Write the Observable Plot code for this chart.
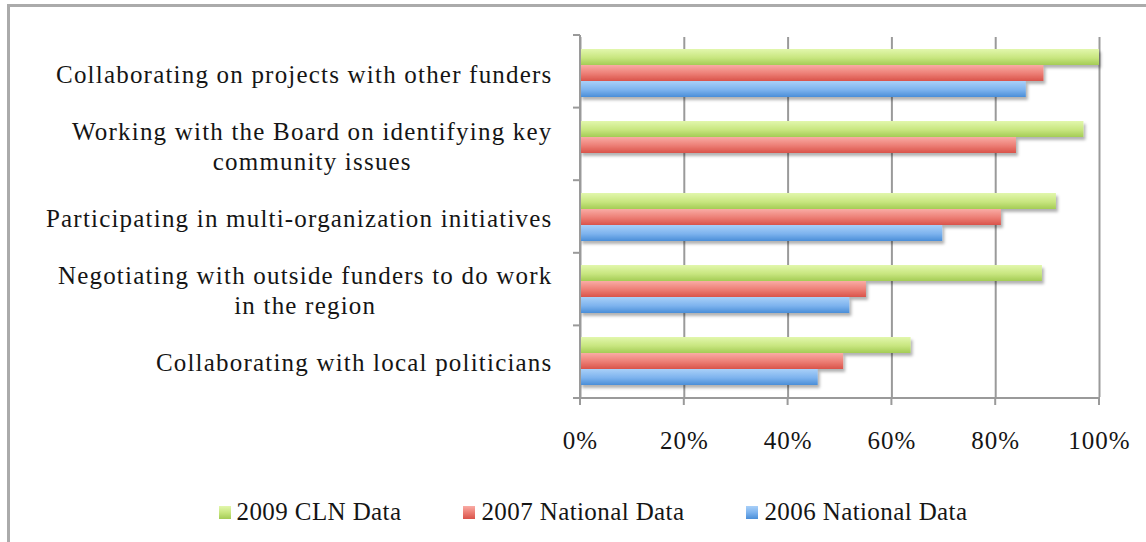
<!DOCTYPE html>
<html>
<head>
<meta charset="utf-8">
<script src="https://cdn.jsdelivr.net/npm/d3@7"></script>
<script src="https://cdn.jsdelivr.net/npm/@observablehq/plot@0.6"></script>
<style>
  html, body { margin: 0; padding: 0; background: #fff; }
  #wrap { position: relative; width: 1146px; height: 542px; background: #fff; overflow: hidden;
          font-family: "Liberation Serif", serif; color: #151515; }
  #border { position: absolute; left: 7px; top: 4px; width: 1200px; height: 600px;
            border-top: 3px solid #ababab; border-left: 3px solid #ababab; }
  #chart { position: absolute; left: 0; top: 0; }
  #legend { position: absolute; left: 0; top: 476px; width: 1146px; height: 72px;
            display: flex; justify-content: center; align-items: center; padding-left: 40px; box-sizing: border-box;
            font-size: 25px; letter-spacing: 0.4px; }
  .item { display: flex; align-items: center; margin: 0 31px; }
  .sw { width: 12px; height: 13px; margin-right: 6px; display: inline-block; }
</style>
</head>
<body>
<div id="wrap">
  <div id="border"></div>
  <div id="chart"></div>
  <div id="legend"></div>
</div>
<script>
// ---- data ----
const categories = [
  "Collaborating on projects with other funders",
  "Working with the Board on identifying key community issues",
  "Participating in multi-organization initiatives",
  "Negotiating with outside funders to do work in the region",
  "Collaborating with local politicians"
];
const categoryLabels = [
  "Collaborating on projects with other funders",
  "Working with the Board on identifying key\ncommunity issues",
  "Participating in multi-organization initiatives",
  "Negotiating with outside funders to do work\nin the region",
  "Collaborating with local politicians"
];
const seriesNames = ["2009 CLN Data", "2007 National Data", "2006 National Data"];
const cln2009 = [100, 97, 91.7, 89, 63.7];
const national2007 = [89.3, 84, 81.1, 55.1, 50.7];
const national2006 = [85.9, null, 69.8, 51.9, 45.8];
const xTicks = [0, 20, 40, 60, 80, 100];

const seriesValues = [cln2009, national2007, national2006];
const gradIds = ["gGreen", "gRed", "gBlue"];
const gradStops = [
  ["#e2f7ad", "#c8e67f", "#a4cc56"],
  ["#f9aca5", "#ec7d74", "#d9534a"],
  ["#a9d0f8", "#7db3ee", "#4a8ed8"]
];

// build tidy rows
const rows = [];
seriesNames.forEach((s, si) => {
  categories.forEach((c, ci) => {
    const v = seriesValues[si][ci];
    if (v != null) rows.push({category: c, series: s, value: v});
  });
});
const labelOf = new Map(categories.map((c, i) => [c, categoryLabels[i]]));

const W = 1146, H = 470, mL = 580, mR = 47, mT = 35, mB = 72;

const barMarks = seriesNames.map((s, i) =>
  Plot.barX(rows.filter(r => r.series === s), {
    x: "value", y: "series", fy: "category", fill: `url(#${gradIds[i]})`
  })
);

const plot = Plot.plot({
  width: W,
  height: H,
  marginLeft: mL,
  marginRight: mR,
  marginTop: mT,
  marginBottom: mB,
  style: {fontFamily: "'Liberation Serif', serif", fontSize: "25px", color: "#151515", background: "transparent", overflow: "visible"},
  x: {domain: [0, 100], label: null},
  fy: {domain: categories, padding: 0, label: null},
  y: {domain: seriesNames, paddingInner: 0, paddingOuter: 0.72, axis: null},
  marks: [
    Plot.gridX(xTicks, {stroke: "#9a9a9a", strokeOpacity: 1, strokeWidth: 2}),
    ...barMarks,
    Plot.axisX(xTicks, {tickSize: 0, tickPadding: 34, tickFormat: d => d + "%", label: null, fontSize: 25}),
    Plot.axisFy({anchor: "left", tickSize: 0, tickPadding: 28, label: null, tickFormat: d => labelOf.get(d), lineHeight: 1.2, dy: 0, fontSize: 25})
  ]
});
document.getElementById("chart").appendChild(plot);

// ---- decorations drawn once, using the plot's own scales ----
(function () {
  const svg = d3.select(plot);
  const defs = svg.insert("defs", ":first-child");
  gradIds.forEach((id, i) => {
    const lg = defs.append("linearGradient").attr("id", id)
      .attr("x1", 0).attr("y1", 0).attr("x2", 0).attr("y2", 1);
    lg.append("stop").attr("offset", "0%").attr("stop-color", gradStops[i][0]);
    lg.append("stop").attr("offset", "55%").attr("stop-color", gradStops[i][1]);
    lg.append("stop").attr("offset", "100%").attr("stop-color", gradStops[i][2]);
  });
  const f = defs.append("filter").attr("id", "shadow").attr("x", "-5%").attr("y", "-30%")
    .attr("width", "115%").attr("height", "190%");
  f.append("feDropShadow").attr("dx", 2).attr("dy", 3).attr("stdDeviation", 1.8)
    .attr("flood-color", "#000").attr("flood-opacity", 0.3);

  const xs = plot.scale("x");
  const x = v => xs.apply(v);
  const x0 = x(0), x1 = x(100);
  const yTop = mT, yBottom = H - mB;
  const step = (yBottom - yTop) / categories.length; // fy padding is 0
  const bounds = d3.range(categories.length + 1).map(i => yTop + i * step);
  const stroke = "#9a9a9a";
  const g = svg.append("g").attr("aria-label", "axis lines");
  g.append("line").attr("x1", x0).attr("x2", x0).attr("y1", yTop).attr("y2", yBottom)
    .attr("stroke", stroke).attr("stroke-width", 2);
  g.selectAll(".bt").data(bounds).join("line")
    .attr("x1", x0 - 7).attr("x2", x0).attr("y1", d => d).attr("y2", d => d)
    .attr("stroke", stroke).attr("stroke-width", 2);
  g.append("line").attr("x1", x0 - 7).attr("x2", x1 + 1).attr("y1", yBottom).attr("y2", yBottom)
    .attr("stroke", stroke).attr("stroke-width", 2);
  g.selectAll(".xt").data(xTicks).join("line")
    .attr("x1", d => x(d)).attr("x2", d => x(d)).attr("y1", yBottom).attr("y2", yBottom + 7)
    .attr("stroke", stroke).attr("stroke-width", 2);

  // post-styling: shadow on bars, letter spacing on labels, center multi-line label blocks
  svg.selectAll('g[aria-label="bar"]').attr("filter", "url(#shadow)");
  svg.selectAll('g[aria-label="x-axis tick label"] text').style("letter-spacing", "1px");
  svg.selectAll('g[aria-label="fy-axis tick label"] text').each(function () {
    this.style.letterSpacing = "1.2px";
    const tspans = this.querySelectorAll("tspan");
    if (tspans.length > 1) {
      let maxW = 0;
      tspans.forEach(t => { maxW = Math.max(maxW, t.getComputedTextLength()); });
      this.setAttribute("text-anchor", "middle");
      const tr = this.getAttribute("transform") || "";
      this.setAttribute("transform", tr + ` translate(${-maxW / 2},0)`);
    }
  });

  // legend
  const legend = d3.select("#legend");
  seriesNames.forEach((s, i) => {
    const it = legend.append("div").attr("class", "item");
    it.append("span").attr("class", "sw")
      .style("background", `linear-gradient(${gradStops[i][0]}, ${gradStops[i][1]}, ${gradStops[i][2]})`);
    it.append("span").text(s);
  });
})();
</script>
</body>
</html>
